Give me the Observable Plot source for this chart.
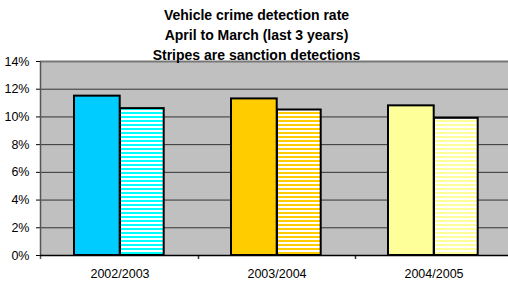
<!DOCTYPE html>
<html><head><meta charset="utf-8">
<script src="https://cdn.jsdelivr.net/npm/d3@7"></script>
<script src="https://cdn.jsdelivr.net/npm/@observablehq/plot@0.6"></script>
<style>
html,body{margin:0;padding:0;background:#fff;}
#wrap{position:relative;width:508px;height:284px;overflow:hidden;font-family:"Liberation Sans",Arial,sans-serif;}
#title{position:absolute;left:0;top:5.3px;width:513px;text-align:center;font-weight:bold;font-size:14px;line-height:20px;z-index:2;color:#000;}
#chart{position:absolute;left:0;top:0;}
</style></head><body>
<div id="wrap"><div id="title">Vehicle crime detection rate<br>April to March (last 3 years)<br>Stripes are sanction detections</div><div id="chart"></div></div>
<script>
const years = ["2002/2003", "2003/2004", "2004/2005"];
const totalRate = [0.115, 0.113, 0.108];
const sanctionRate = [0.106, 0.105, 0.099];
const solidColors = ["#00ccff", "#ffcc00", "#ffff99"];
const stripeColors = ["#00ffff", "#ffcc00", "#ffff99"];
const yTicks = [0, 0.02, 0.04, 0.06, 0.08, 0.10, 0.12, 0.14];

const totals = years.map((y, i) => ({year: y, value: totalRate[i], fill: solidColors[i]}));
const sanctions = years.map((y, i) => ({year: y, value: sanctionRate[i], fill: `url(#stripe${i})`}));

function axisDecor(index, scales, values, dim) {
  const g = d3.create("svg:g");
  const x = scales.x, y = scales.y;
  const bw = x.bandwidth ? x.bandwidth() : 0;
  const y0 = y(0), yTop = y(0.14);
  const left = dim.marginLeft;
  // left axis line
  g.append("line").attr("x1", left + 0.5).attr("x2", left + 0.5)
    .attr("y1", yTop).attr("y2", y0 + 4).attr("stroke", "#555").attr("stroke-width", 1.5);
  // category boundary ticks
  years.forEach(yr => {
    const bx = Math.round(x(yr) + bw) + 0.5;
    g.append("line").attr("x1", bx).attr("x2", bx)
      .attr("y1", y0).attr("y2", y0 + 4).attr("stroke", "#333").attr("stroke-width", 1.5);
  });
  // bottom axis line
  g.append("line").attr("x1", left).attr("x2", dim.width - dim.marginRight)
    .attr("y1", y0 + 0.5).attr("y2", y0 + 0.5).attr("stroke", "#000").attr("stroke-width", 1.5);
  return g.node();
}

const plot = Plot.plot({
  width: 508,
  height: 284,
  marginLeft: 40,
  marginRight: -4,
  marginTop: 61,
  marginBottom: 29,
  style: {fontFamily: "'Liberation Sans', Arial, sans-serif", fontSize: "12.5px", background: "transparent", color: "#000", overflow: "visible"},
  x: {domain: years, padding: 0, label: null, tickSize: 0, tickPadding: 14},
  y: {domain: [0, 0.14], ticks: yTicks, tickFormat: d3.format(".0%"), label: null, tickSize: 4, tickPadding: 7},
  color: {type: "identity"},
  marks: [
    Plot.frame({fill: "#c0c0c0", stroke: "none"}),
    Plot.ruleY(yTicks, {stroke: "#333", strokeWidth: 1}),
    Plot.ruleY([0.14], {stroke: "#777", strokeWidth: 2}),
    Plot.barY(totals, {x: "year", y: "value", fill: "fill", stroke: "#000", strokeWidth: 2, insetLeft: 33, insetRight: 78.3}),
    Plot.barY(sanctions, {x: "year", y: "value", fill: "fill", stroke: "#000", strokeWidth: 2, insetLeft: 79, insetRight: 34.3}),
    axisDecor
  ]
});

// stripe patterns for sanction detections
const defs = d3.select(plot).insert("defs", ":first-child");
stripeColors.forEach((c, i) => {
  const p = defs.append("pattern").attr("id", `stripe${i}`).attr("patternUnits", "userSpaceOnUse")
    .attr("width", 8).attr("height", 4);
  p.append("rect").attr("width", 8).attr("height", 4).attr("fill", "#fff");
  p.append("rect").attr("y", 0).attr("width", 8).attr("height", 2).attr("fill", c);
});

document.getElementById("chart").appendChild(plot);
</script>
</body></html>
